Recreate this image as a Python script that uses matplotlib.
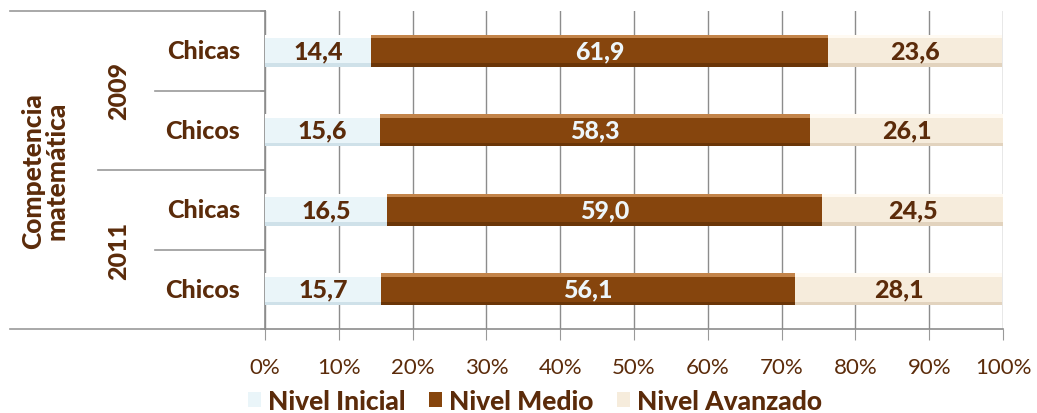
import matplotlib
matplotlib.use("Agg")
import matplotlib.pyplot as plt
import matplotlib.transforms as mtransforms
from matplotlib.lines import Line2D
import numpy as np

# Data
categories = ["Chicas", "Chicos", "Chicas", "Chicos"]
years = ["2009", "2011"]
series_names = ["Nivel Inicial", "Nivel Medio", "Nivel Avanzado"]
nivel_inicial = [14.4, 15.6, 16.5, 15.7]
nivel_medio = [61.9, 58.3, 59.0, 56.1]
nivel_avanzado = [23.6, 26.1, 24.5, 28.1]
xticks = [0, 10, 20, 30, 40, 50, 60, 70, 80, 90, 100]

text_color = "#5b2b0a"
colors = ["#eaf5f9", "#86450d", "#f6ecdc"]
top_colors = ["#ffffff", "#c3844a", "#fffaf2"]
bottom_colors = ["#cfe1e9", "#6a3507", "#e2d3be"]
label_colors = [text_color, "#eef6fa", text_color]

plt.rcParams["font.family"] = ["Lato", "DejaVu Sans"]

fig = plt.figure(figsize=(10.37, 4.14), dpi=100)
ax = fig.add_axes([265 / 1037, 84 / 414, 738 / 1037, 318 / 414])

y = np.arange(len(categories))
bar_h = 0.40
stripe = 0.045
left = np.zeros(len(categories))
for vals, col, tc, bc, lc, name in zip([nivel_inicial, nivel_medio, nivel_avanzado],
                                       colors, top_colors, bottom_colors,
                                       label_colors, series_names):
    vals = np.array(vals)
    ax.barh(y, vals, left=left, height=bar_h, color=col, edgecolor="none",
            linewidth=0, label=name, zorder=3)
    # bevel highlights along the top and bottom of each segment
    ax.barh(y - bar_h / 2 + stripe / 2, vals, left=left, height=stripe,
            color=tc, edgecolor="none", zorder=3.1)
    ax.barh(y + bar_h / 2 - stripe / 2, vals, left=left, height=stripe,
            color=bc, edgecolor="none", zorder=3.1)
    for yi, l, v in zip(y, left, vals):
        ax.text(l + v / 2, yi, f"{v:.1f}".replace(".", ","), ha="center",
                va="center", fontsize=18, fontweight="black", color=lc, zorder=4)
    left = left + vals

ax.set_xlim(0, 100)
ax.set_ylim(3.5, -0.5)
ax.set_xticks(xticks)
ax.set_xticklabels([f"{t}%" for t in xticks], fontsize=16, color=text_color,
                   family=["Liberation Sans Narrow", "Lato"])
ax.tick_params(axis="x", length=8, color="#999999", pad=12)
ax.set_yticks([])
ax.grid(axis="x", color="#8c8c8c", linewidth=1.0, zorder=0)
ax.set_axisbelow(True)
for s in ["top", "right"]:
    ax.spines[s].set_visible(False)
ax.spines["left"].set_color("#8c8c8c")
ax.spines["bottom"].set_color("#8c8c8c")
ax.spines["left"].set_linewidth(1.2)
ax.spines["bottom"].set_linewidth(1.2)

# Category table on the left
trans = mtransforms.blended_transform_factory(ax.transAxes, ax.transData)
for yi, cat in zip(y, categories):
    ax.text(-0.034, yi, cat, transform=trans, ha="right", va="center",
            fontsize=18, fontweight="black", color=text_color)
for yy, name in zip([0.5, 2.5], years):
    ax.text(-0.198, yy, name, transform=trans, ha="center", va="center",
            rotation=90, fontsize=18, fontweight="black", color=text_color)
ax.text(-0.298, 1.5, "Competencia\nmatemática", transform=trans, ha="center",
        va="center", rotation=90, fontsize=19, fontweight="black",
        color=text_color, linespacing=0.95)

line_kw = dict(transform=trans, color="#999999", linewidth=1.2, clip_on=False)
for yy, x0 in [(-0.5, -0.3455), (0.5, -0.149), (1.5, -0.226), (2.5, -0.149), (3.5, -0.3455)]:
    ax.add_line(Line2D([x0, 0], [yy, yy], **line_kw))
for yy in [-0.5, 0.5, 1.5, 2.5, 3.5]:
    ax.add_line(Line2D([-0.006, 0], [yy, yy], **line_kw))

leg = fig.legend(loc="lower center", bbox_to_anchor=(0.516, -0.058), ncol=3,
                 frameon=False, fontsize=19, handlelength=0.5, handleheight=0.5,
                 handletextpad=0.25, columnspacing=0.9)
for t in leg.get_texts():
    t.set_color(text_color)
    t.set_fontweight("black")

fig.savefig("out.png", dpi=100)
